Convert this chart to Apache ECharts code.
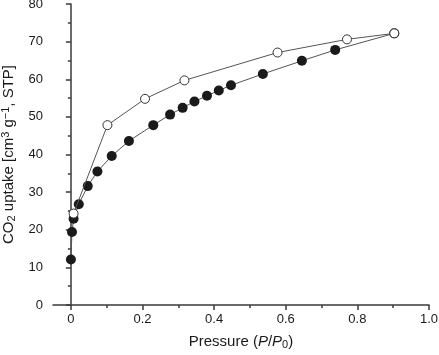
<!DOCTYPE html>
<html>
<head>
<meta charset="utf-8">
<script src="https://cdn.jsdelivr.net/npm/echarts@6/dist/echarts.min.js"></script>
<style>
  html, body { margin: 0; padding: 0; background: #fff; }
  #chart { width: 439px; height: 355px; }
</style>
</head>
<body>
<div id="chart"></div>
<script>
// adsorption branch (filled) and desorption branch (open)
const adsX = [0.000, 0.003, 0.0075, 0.022, 0.047, 0.074, 0.114, 0.162, 0.230, 0.277, 0.312, 0.345, 0.380, 0.413, 0.447, 0.536, 0.645, 0.738, 0.903]
const adsY = [12.1, 19.4, 22.9, 26.8, 31.6, 35.5, 39.6, 43.6, 47.8, 50.6, 52.4, 54.1, 55.6, 57.0, 58.4, 61.4, 64.9, 67.8, 72.2]
const desX = [0.903, 0.771, 0.577, 0.317, 0.207, 0.102, 0.0075]
const desY = [72.2, 70.6, 67.1, 59.7, 54.8, 47.8, 24.3]

const xMajor = [0, 0.2, 0.4, 0.6, 0.8, 1.0]
const xMinor = [0.1, 0.3, 0.5, 0.7, 0.9]

const pairs = (xs, ys) => xs.map((x, i) => [x, ys[i]])

const axisColor = '#3a3a3a'
const textColor = '#1a1a1a'
const font = '"Liberation Sans", Arial, sans-serif'

const chart = echarts.init(document.getElementById('chart'), null, { renderer: 'canvas' })

chart.setOption({
  backgroundColor: '#fff',
  animation: false,
  grid: { left: 53, right: 10, top: 4, bottom: 50, containLabel: false, outerBoundsMode: 'none' },
  xAxis: [
    {
      type: 'value', min: -0.05, max: 1.0, position: 'bottom',
      name: '{n|Pressure (}{i|P}{n|/}{i|P}{sub|0}{n|)}',
      nameLocation: 'middle', nameGap: 28,
      nameTextStyle: {
        rich: {
          n: { fontSize: 15, color: textColor, fontFamily: font },
          i: { fontSize: 15, color: textColor, fontFamily: font, fontStyle: 'italic' },
          sub: { fontSize: 11, color: textColor, fontFamily: font, verticalAlign: 'bottom', padding: [6, 0, 0, 0] }
        }
      },
      splitLine: { show: false },
      axisLine: { onZero: false, lineStyle: { color: axisColor, width: 1.5 } },
      axisTick: { show: true, inside: false, length: 5, customValues: xMajor, lineStyle: { color: axisColor, width: 1.5 } },
      axisLabel: { customValues: xMajor, color: textColor, fontSize: 13, fontFamily: font, margin: 8,
        formatter: v => (v === 0 ? '0' : v.toFixed(1)) }
    },
    {
      type: 'value', min: -0.05, max: 1.0, position: 'bottom', offset: 0,
      splitLine: { show: false },
      axisLine: { show: false, onZero: false },
      axisTick: { show: true, inside: false, length: 3, customValues: xMinor, lineStyle: { color: axisColor, width: 1.5 } },
      axisLabel: { show: true, customValues: xMinor, formatter: () => '' }
    }
  ],
  yAxis: {
    type: 'value', min: 0, max: 80, interval: 10,
    name: '{n|CO}{sub|2}{n| uptake [cm}{sup|3}{n| g}{sup|−1}{n|, STP]}',
    nameLocation: 'middle', nameGap: 35,
    nameTextStyle: {
      rich: {
        n: { fontSize: 15, color: textColor, fontFamily: font },
        sub: { fontSize: 11, color: textColor, fontFamily: font, verticalAlign: 'bottom', padding: [6, 0, 0, 0] },
        sup: { fontSize: 11, color: textColor, fontFamily: font, verticalAlign: 'top', padding: [0, 0, 6, 0] }
      }
    },
    splitLine: { show: false },
    axisLine: { show: true, lineStyle: { color: axisColor, width: 1.5 } },
    axisTick: { show: true, inside: false, length: 5, lineStyle: { color: axisColor, width: 1.5 } },
    minorTick: { show: true, splitNumber: 2, length: 3, lineStyle: { color: axisColor, width: 1.5 } },
    axisLabel: { color: textColor, fontSize: 13, fontFamily: font, margin: 10 }
  },
  series: [
    {
      name: 'adsorption', type: 'line', data: pairs(adsX, adsY), z: 2,
      symbol: 'circle', symbolSize: 10,
      lineStyle: { color: '#555', width: 1 },
      itemStyle: { color: '#1a1a1a', borderColor: '#1a1a1a', borderWidth: 0 }
    },
    {
      name: 'desorption', type: 'line', data: pairs(desX, desY), z: 3,
      symbol: 'circle', symbolSize: 9,
      lineStyle: { color: '#555', width: 1 },
      itemStyle: { color: '#fff', borderColor: '#333', borderWidth: 1 }
    }
  ]
})
</script>
</body>
</html>
